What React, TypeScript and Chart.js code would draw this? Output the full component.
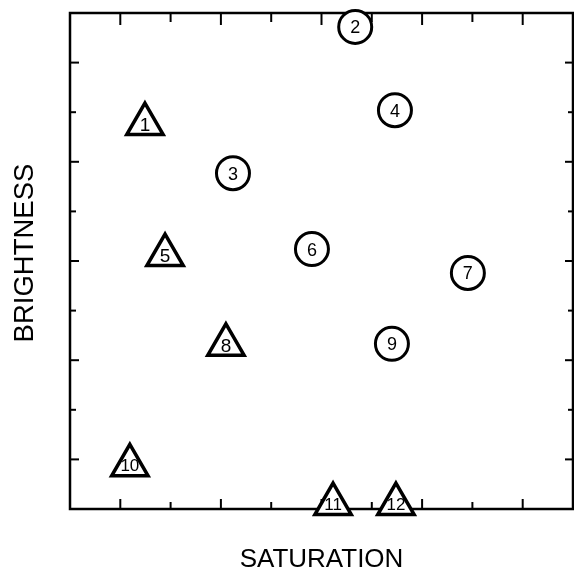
import React, { useEffect, useRef } from 'react';
import { Chart, registerables } from 'chart.js';

Chart.register(...registerables);

// Circles (numbered samples)
const circleLabels = ['2', '3', '4', '6', '7', '9'];
const circleSaturation = [5.67, 3.24, 6.46, 4.81, 7.91, 6.4];
const circleBrightness = [9.72, 6.77, 8.04, 5.24, 4.76, 3.33];

// Triangles (numbered samples)
const triangleLabels = ['1', '5', '8', '10', '11', '12'];
const triangleSaturation = [1.49, 1.89, 3.1, 1.19, 5.23, 6.48];
const triangleBrightness = [7.76, 5.12, 3.31, 0.88, 0.1, 0.1];

// Axis tick values (no tick labels in the original)
const xTickValues = [1, 2, 3, 4, 5, 6, 7, 8, 9];
const yTickValues = [1, 2, 3, 4, 5, 6, 7, 8, 9];
const axisMin = 0;
const axisMax = 10;

const xTitle = 'SATURATION';
const yTitle = 'BRIGHTNESS';

const FONT = '"Liberation Sans", Arial, Helvetica, sans-serif';

const framePlugin = {
  id: 'frameTicks',
  beforeDatasetsDraw(chart: any) {
    const { ctx, chartArea: a, scales } = chart;
    const x = scales.x;
    const y = scales.y;
    ctx.save();
    ctx.strokeStyle = '#000';
    ctx.lineWidth = 2.5;
    ctx.strokeRect(a.left, a.top, a.right - a.left, a.bottom - a.top);
    ctx.lineWidth = 2;
    const seg = (x1: number, y1: number, x2: number, y2: number) => {
      ctx.beginPath();
      ctx.moveTo(x1, y1);
      ctx.lineTo(x2, y2);
      ctx.stroke();
    };
    xTickValues.forEach((v) => {
      const px = x.getPixelForValue(v);
      const long = v % 2 === 1;
      seg(px, a.bottom, px, a.bottom - (long ? 10 : 7));
      seg(px, a.top, px, a.top + (long ? 12 : 9));
    });
    yTickValues.forEach((v) => {
      const py = y.getPixelForValue(v);
      const long = v % 2 === 1;
      seg(a.left, py, a.left + (long ? 9 : 6), py);
      seg(a.right, py, a.right - (long ? 8 : 5), py);
    });
    ctx.restore();
  },
  afterDatasetsDraw(chart: any) {
    const { ctx, chartArea: a } = chart;
    ctx.save();
    ctx.fillStyle = '#000';
    ctx.textAlign = 'center';
    ctx.textBaseline = 'alphabetic';
    chart.data.datasets.forEach((ds: any, i: number) => {
      const meta = chart.getDatasetMeta(i);
      meta.data.forEach((el: any, j: number) => {
        const t = ds.pointLabels[j];
        const size = t.length > 1 ? ds.labelSizeWide : ds.labelSize;
        ctx.font = `${size}px ${FONT}`;
        ctx.fillText(t, el.x, el.y + size * 0.36);
      });
    });
    // axis titles
    ctx.font = `26px ${FONT}`;
    ctx.fillText(xTitle, (a.left + a.right) / 2, 567);
    ctx.save();
    ctx.translate(33, 253);
    ctx.rotate(-Math.PI / 2);
    ctx.font = `27.5px ${FONT}`;
    ctx.fillText(yTitle, 0, 0);
    ctx.restore();
    ctx.restore();
  },
};

export default function App() {
  const canvasRef = useRef<HTMLCanvasElement | null>(null);

  useEffect(() => {
    document.body.style.margin = '0';
    const canvas = canvasRef.current;
    if (!canvas) return;
    const chart = new Chart(canvas, {
      type: 'scatter',
      data: {
        datasets: [
          {
            label: 'circles',
            data: circleSaturation.map((s, i) => ({ x: s, y: circleBrightness[i] })),
            pointStyle: 'circle',
            pointRadius: 16.5,
            pointBorderWidth: 3,
            pointBackgroundColor: '#fff',
            pointBorderColor: '#000',
            clip: false,
            pointLabels: circleLabels,
            labelSize: 18,
            labelSizeWide: 17,
          } as any,
          {
            label: 'triangles',
            data: triangleSaturation.map((s, i) => ({ x: s, y: triangleBrightness[i] })),
            pointStyle: 'triangle',
            pointRadius: 21,
            pointBorderWidth: 3.5,
            pointBackgroundColor: '#fff',
            pointBorderColor: '#000',
            clip: false,
            pointLabels: triangleLabels,
            labelSize: 19,
            labelSizeWide: 17,
          } as any,
        ],
      },
      options: {
        animation: false,
        responsive: false,
        events: [],
        layout: { autoPadding: false, padding: { left: 70, right: 1, top: 13, bottom: 62 } },
        plugins: {
          legend: { display: false },
          tooltip: { enabled: false },
        },
        scales: {
          x: { type: 'linear', min: axisMin, max: axisMax, display: false },
          y: { type: 'linear', min: axisMin, max: axisMax, display: false },
        },
      },
      plugins: [framePlugin],
    });
    return () => chart.destroy();
  }, []);

  return (
    <div style={{ width: 574, height: 571, background: '#fff' }}>
      <canvas ref={canvasRef} width={574} height={571} style={{ display: 'block' }} />
    </div>
  );
}
